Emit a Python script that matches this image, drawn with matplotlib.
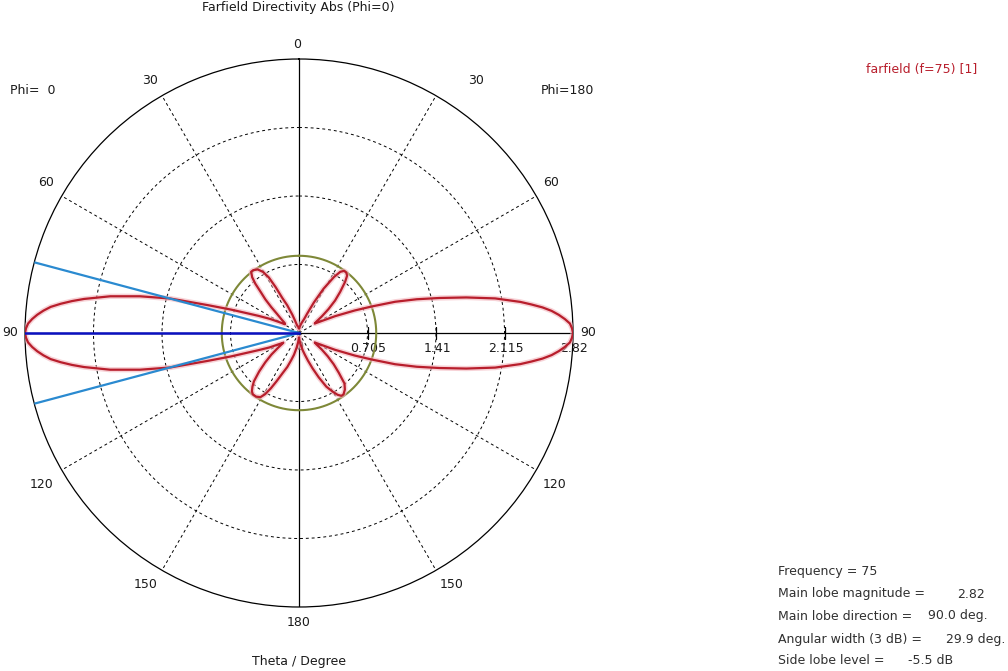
import numpy as np
import matplotlib
matplotlib.use("Agg")
import matplotlib.pyplot as plt

# Farfield cut, theta in degrees (0 = top, 180 = bottom)
# Phi = 0 half (drawn on the left)
theta_phi0 = [0, 5, 10, 14, 17, 20, 23, 25.5, 27, 28.5, 30.5, 33, 36, 38, 40, 41.5,
              43, 45, 47, 49, 52, 55, 58,
              61, 64, 67, 69, 71, 73, 75, 77, 79, 81, 82, 83, 84, 85, 86, 87, 88,
              89, 90,
              91, 92, 93, 94, 95, 96, 97, 98, 99, 101, 103, 105, 107, 109, 111, 113,
              116, 119, 122,
              125, 128, 131, 134, 137, 139, 141, 143, 146, 149, 151, 153, 155, 158,
              161, 164, 167, 171, 175, 180]
dir_phi0 = [0.05, 0.06, 0.07, 0.08, 0.12, 0.20, 0.31, 0.40, 0.53, 0.65, 0.73, 0.78,
            0.80, 0.80, 0.75, 0.68, 0.58, 0.49, 0.39, 0.30, 0.23, 0.18, 0.17,
            0.23, 0.33, 0.45, 0.56, 0.74, 0.98, 1.37, 1.68, 1.98, 2.24, 2.36, 2.47,
            2.57, 2.64, 2.70, 2.75, 2.79, 2.81, 2.82,
            2.81, 2.79, 2.75, 2.70, 2.64, 2.57, 2.47, 2.36, 2.24, 1.98, 1.68, 1.37,
            0.98, 0.74, 0.56, 0.45, 0.34, 0.24, 0.19,
            0.26, 0.36, 0.46, 0.57, 0.68, 0.73, 0.77, 0.79, 0.79, 0.77, 0.72, 0.64,
            0.55, 0.44, 0.37, 0.29, 0.23, 0.15, 0.09, 0.05]

# Phi = 180 half (drawn on the right)
theta_phi180 = [0, 5, 10, 15, 20, 23, 26, 29, 32, 34, 36, 38, 40, 42, 45, 48, 51, 54,
                57, 59, 62, 65, 68, 70, 72, 74, 76, 78, 80, 82, 83, 84, 85, 86, 87,
                88, 89, 90,
                91, 92, 93, 94, 95, 96, 97, 98, 100, 102, 104, 106, 108, 110, 112,
                115, 118, 121,
                123, 126, 129, 132, 135, 138, 141, 144, 146, 148, 150, 153, 156,
                159, 162, 165, 168, 172, 176, 180]
dir_phi180 = [0.05, 0.06, 0.08, 0.11, 0.15, 0.22, 0.35, 0.52, 0.68, 0.76, 0.79, 0.79,
              0.77, 0.71, 0.60, 0.50, 0.39, 0.29, 0.21, 0.19, 0.26, 0.41, 0.62, 0.80,
              1.04, 1.26, 1.49, 1.76, 2.05, 2.30, 2.41, 2.52, 2.61, 2.68, 2.74, 2.79,
              2.81, 2.82,
              2.81, 2.79, 2.74, 2.68, 2.61, 2.52, 2.41, 2.30, 2.05, 1.76, 1.49, 1.26,
              1.04, 0.80, 0.62, 0.41, 0.26, 0.19,
              0.21, 0.29, 0.38, 0.48, 0.58, 0.70, 0.75, 0.78, 0.78, 0.75, 0.70, 0.62,
              0.50, 0.39, 0.30, 0.23, 0.18, 0.12, 0.08, 0.05]

r_max = 2.82
ring_values = [0.705, 1.41, 2.115, 2.82]
ring_labels = ["0.705", "1.41", "2.115", "2.82"]
main_direction = 90.0
angular_width = 29.9
side_lobe_db = -5.5
frequency = 75

# ---------------------------------------------------------------------------
W, H = 1008, 671
fig = plt.figure(figsize=(W / 100, H / 100), dpi=100)
fig.patch.set_facecolor("white")

cx, cy, R = 299, 333, 274
ax = fig.add_axes([(cx - R) / W, (H - cy - R) / H, 2 * R / W, 2 * R / H],
                  projection="polar")
ax.set_theta_zero_location("N")
ax.set_theta_direction(-1)
ax.set_ylim(0, r_max)

dash = (0, (3, 3))
ax.set_thetagrids([30, 60, 120, 150, 210, 240, 300, 330], labels=[""] * 8)
ax.set_rgrids(ring_values[:-1], labels=[""] * 3)
ax.xaxis.grid(True, color="black", linestyle=dash, linewidth=0.7)
ax.yaxis.grid(True, color="black", linestyle=dash, linewidth=0.7)
ax.tick_params(length=0)
ax.spines["polar"].set_linewidth(0.9)
ax.spines["polar"].set_color("black")

# Solid axis cross
for a in (0, 90, 180, 270):
    ax.plot([np.radians(a)] * 2, [0, r_max], color="black", lw=0.9, zorder=2)

# Radial ticks and labels along theta = 90 (right)
for rv, lab in zip(ring_values, ring_labels):
    ax.plot([np.pi / 2], [rv], marker="|", markersize=8.5, color="black",
            mew=0.9, zorder=3)
    ax.annotate(lab, xy=(np.pi / 2, rv), xytext=(1, -15),
                textcoords="offset pixels", ha="center", va="center",
                fontsize=9, color="#1a1a1a")
ax.annotate("0", xy=(0, 0), xytext=(0, -14), textcoords="offset pixels",
            ha="center", va="center", fontsize=9, color="#1a1a1a")

# Side lobe level circle
sll = r_max * 10 ** (side_lobe_db / 10)
circ = np.linspace(0, 2 * np.pi, 361)
ax.plot(circ, np.full_like(circ, sll), color="#7e8838", lw=1.5, zorder=4)

# Pattern
red = "#b81e2c"
th0 = -np.radians(theta_phi0)
th180 = np.radians(theta_phi180)
for th, rr in ((th0, dir_phi0), (th180, dir_phi180)):
    ax.plot(th, rr, color="#f2b4bc", lw=3.8, alpha=0.6, zorder=5,
            solid_joinstyle="round")
    ax.plot(th, rr, color=red, lw=1.6, zorder=6, solid_joinstyle="round")

# Main lobe direction and 3 dB beam width
md = -np.radians(main_direction)
hw = np.radians(angular_width / 2)
for a in (md - hw, md + hw):
    ax.plot([a, a], [0, r_max], color="#2a8ad0", lw=1.6, zorder=7)
ax.plot([md, md], [0, r_max], color="#0a10c0", lw=1.8, zorder=8)

# ---------------------------------------------------------------------------
def px_text(x, y, s, ha="center", va="center", **kw):
    kw.setdefault("fontsize", 9)
    kw.setdefault("color", "#1a1a1a")
    fig.text(x / W, 1 - y / H, s, ha=ha, va=va, **kw)

px_text(298, 7, "Farfield Directivity Abs (Phi=0)")
px_text(10, 90, "Phi=  0", ha="left")
px_text(541, 90, "Phi=180", ha="left")
px_text(299, 662, "Theta / Degree")
px_text(922, 70, "farfield (f=75) [1]", color=red)

theta_label_pos = [("0", 297, 44), ("30", 476, 80), ("60", 551, 183),
                   ("90", 588, 333), ("120", 555, 484), ("150", 452, 585),
                   ("180", 299, 623), ("30", 150, 80), ("60", 46, 183),
                   ("90", 10, 333), ("120", 42, 484), ("150", 146, 585)]
for s, x, y in theta_label_pos:
    px_text(x, y, s)

info = "#303030"
px_text(778, 572, f"Frequency = {frequency}", ha="left", color=info)
px_text(778, 594, "Main lobe magnitude =", ha="left", color=info)
px_text(957, 594, f"{r_max:.2f}", ha="left", color=info)
px_text(778, 616, "Main lobe direction =", ha="left", color=info)
px_text(928, 616, f"{main_direction:.1f} deg.", ha="left", color=info)
px_text(778, 639, "Angular width (3 dB) =", ha="left", color=info)
px_text(946, 639, f"{angular_width:.1f} deg.", ha="left", color=info)
px_text(778, 661, "Side lobe level =", ha="left", color=info)
px_text(908, 661, f"{side_lobe_db:.1f} dB", ha="left", color=info)

fig.savefig("out.png", dpi=100)
